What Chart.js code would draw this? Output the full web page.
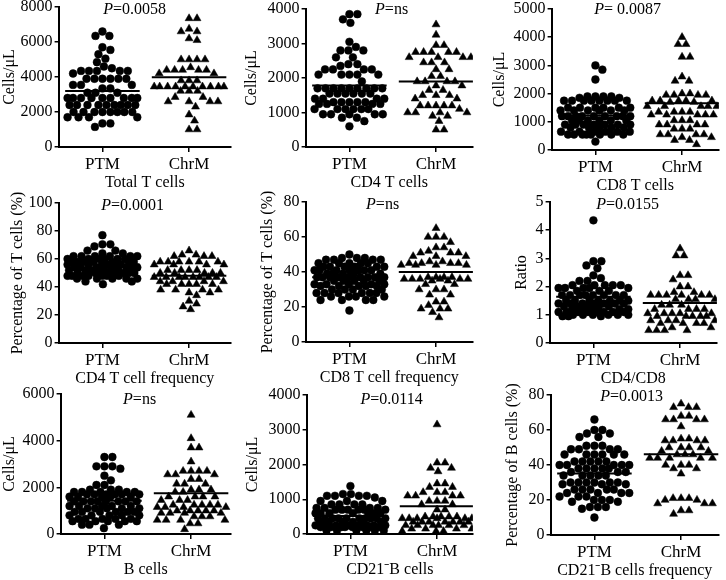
<!DOCTYPE html>
<html>
<head>
<meta charset="utf-8">
<script src="https://cdn.jsdelivr.net/npm/chart.js@4.4.1/dist/chart.umd.min.js"></script>
<style>
html, body { margin: 0; padding: 0; background: #fff; width: 726px; height: 580px; overflow: hidden; position: relative; }
canvas { position: absolute; }
</style>
</head>
<body>
<script>
// values, one row of dots per line
var groupLabels = ["PTM", "ChrM"];
var panelTitles = ["Total T cells", "CD4 T cells", "CD8 T cells",
    "CD4 T cell frequency", "CD8 T cell frequency", "CD4/CD8",
    "B cells", "CD21\u207BB cells", "CD21\u207BB cells frequency"];
var yTitles = ["Cells/\u03BCL", "Cells/\u03BCL", "Cells/\u03BCL",
    "Percentage of T cells (%)", "Percentage of T cells (%)", "Ratio",
    "Cells/\u03BCL", "Cells/\u03BCL", "Percentage of B cells (%)"];
var pValues = ["=0.0058", "=ns", "= 0.0087", "=0.0001", "=ns", "=0.0155", "=ns", "=0.0114", "=0.0013"];
var yMax = [8000, 4000, 5000, 100, 80, 5, 6000, 4000, 80];
var yStep = [2000, 1000, 1000, 20, 20, 1, 2000, 1000, 20];
var meanPTM = [3200, 1780, 1220, 56, 37, 1.64, 1430, 520, 35.2];
var meanChrM = [3980, 1900, 1660, 48, 40, 1.42, 1750, 800, 46.1];

var totalT_ptm = [6600, 6350, 6350, 5700, 5550, 5300, 5050, 4850, 4600, 4500,
    4350, 4350, 4350, 4350, 4350, 4200,
    3900, 3900, 3900, 3900, 3900, 3900,
    3550, 3550, 3550, 3350, 3350, 3100, 3100, 3100,
    2800, 2800, 2800, 2800, 2800, 2800, 2800, 2800, 2800,
    2400, 2400, 2400, 2400, 2400, 2400, 2400, 2400, 2400,
    2000, 2000, 2000, 2000, 2000, 2000, 2000, 2000,
    1700, 1700, 1700, 1700, 1350, 1350, 1150];
var totalT_chrm = [7350, 7350, 6750, 6600, 6600, 6200, 6100,
    5000, 5000, 5000, 5000, 4550,
    4400, 4400, 4400, 4400, 4400, 4200, 4200,
    3800, 3800, 3800,
    3450, 3450, 3450, 3450, 3450, 3450, 3450, 3450, 3450, 3450,
    3200, 3200, 3200, 2850, 2850, 2600, 2600, 2600, 2600,
    2300, 1850, 1500, 1000, 1000];

var cd4T_ptm = [3850, 3850, 3700, 3600, 3050, 2900, 2800, 2800, 2800,
    2600, 2600, 2400, 2400, 2350, 2250, 2250, 2250, 2250,
    2100, 2100, 2100, 2100, 2100, 1900,
    1700, 1700, 1700, 1700, 1700, 1700, 1700, 1700, 1700,
    1550, 1550, 1550, 1550, 1550, 1550,
    1400, 1400, 1400, 1400, 1300, 1300, 1300, 1300, 1300,
    1250, 1250, 1250, 1250,
    1100, 1100, 1100, 1100, 1100, 1100,
    950, 950, 950, 950, 950, 850, 850, 750, 600];
var cd4T_chrm = [3550, 3250, 2950, 2950,
    2750, 2750, 2750, 2750, 2750, 2600, 2600, 2600, 2600,
    2450, 2450, 2450, 2250, 2250, 2050, 2050,
    1900, 1900, 1900, 1900, 1780, 1780, 1650, 1650,
    1500, 1500, 1500, 1400, 1400,
    1200, 1200, 1200, 1200, 1200, 1100,
    1000, 1000, 1000, 1000, 900, 900, 750, 500, 500];

var cd8T_ptm = [3000, 2850, 2500, 1900, 1900, 1900, 1900, 1850, 1850,
    1750, 1750, 1750, 1750, 1750, 1750, 1750, 1750,
    1500, 1500, 1500, 1500, 1500, 1500,
    1400, 1400, 1400, 1400, 1400, 1400,
    1200, 1200, 1200, 1200, 1200, 1200, 1200, 1200, 1200,
    1050, 1050, 1050, 1050, 1050, 1050,
    900, 900, 900, 900, 900, 900, 900,
    800, 800, 800, 800, 800,
    650, 650, 650, 650, 650, 650,
    550, 550, 550, 550, 550, 550, 550, 550, 300];
var cd8T_chrm = [4000, 3750, 3750, 3300, 3300, 2600, 2450, 2450,
    2000, 2000, 1950, 1950, 1950, 1950,
    1750, 1750, 1750, 1750, 1750, 1700, 1700,
    1550, 1550, 1550, 1550, 1550, 1350, 1350, 1350, 1350,
    1250, 1250, 1250, 1250, 1250, 1050, 1050, 1050,
    900, 900, 900, 900, 750, 750, 750,
    550, 550, 550, 550, 450, 450, 350, 350, 200];

var cd4Freq_ptm = [77, 70.5, 70.5, 69, 66, 66, 64, 64,
    62, 62, 62, 62, 62, 62, 60, 60, 60, 60, 60, 60,
    58, 58, 58, 58, 58, 58, 58, 56, 56, 56, 56, 56, 56,
    54, 54, 54, 54, 54, 54, 54, 52, 52, 52, 52, 52, 52,
    50, 50, 50, 50, 50, 50, 50, 48, 48, 48, 48, 48, 48, 48,
    46, 46, 46, 46, 46, 44, 44, 42];
var cd4Freq_chrm = [66, 63, 63, 62, 62, 62,
    58, 58, 58, 58, 58, 58, 56, 56, 56, 56,
    52, 52, 52, 52, 50, 50, 50, 50, 50,
    47, 47, 47, 47, 47, 47, 47, 47,
    44, 44, 44, 44, 42, 42, 42, 42, 42,
    38, 38, 38, 38, 36, 36, 34, 30, 28, 26, 24];

var cd8Freq_ptm = [50, 48, 48, 48, 47, 47, 47, 47,
    45, 45, 45, 45, 45, 43, 43, 43, 43, 43, 43,
    41, 41, 41, 41, 41, 41, 41, 39, 39, 39, 39, 39,
    37, 37, 37, 37, 37, 37, 37, 37, 37,
    35, 35, 35, 35, 35, 33, 33, 33, 33, 33, 32, 32, 32, 32, 32,
    30, 30, 30, 30, 28, 28, 28, 28, 28, 28,
    26, 26, 26, 26, 24, 24, 24, 24, 18];
var cd8Freq_chrm = [65, 60, 60, 60, 57, 54, 54, 52, 51, 51, 51,
    49, 49, 49, 46, 46, 45, 45, 45, 45, 44, 44, 44, 44,
    37, 37, 37, 37, 36, 36, 36, 36, 36, 36, 35, 35,
    33, 33, 30, 30, 30, 27, 27, 23, 23, 21, 19, 19, 19, 17, 14];

var ratio_ptm = [4.35, 2.9, 2.9, 2.75, 2.65, 2.4, 2.3, 2.2, 2.2,
    2.05, 2.05, 2.05, 2.05, 2.05, 1.95, 1.95, 1.95, 1.95, 1.95, 1.85, 1.85, 1.85,
    1.7, 1.7, 1.7, 1.7, 1.7, 1.7, 1.7, 1.7,
    1.5, 1.5, 1.5, 1.5, 1.5, 1.5, 1.5, 1.4, 1.4, 1.4, 1.4, 1.4, 1.4, 1.4,
    1.3, 1.3, 1.3, 1.3, 1.3, 1.2, 1.2, 1.2, 1.2, 1.2,
    1.1, 1.1, 1.1, 1.1, 1.1, 1.1, 1.1, 1.1,
    1.0, 1.0, 1.0, 1.0, 1.0, 1.0, 0.95, 0.95, 0.95];
var ratio_chrm = [3.35, 3.1, 3.1, 2.4, 2.4, 2.25, 2.0, 2.0, 1.8, 1.8,
    1.7, 1.7, 1.7, 1.7, 1.7, 1.7, 1.55, 1.55, 1.55, 1.55,
    1.35, 1.35, 1.35, 1.2, 1.2, 1.2, 1.2,
    1.05, 1.05, 1.05, 1.05, 1.05, 0.95, 0.95, 0.95, 0.95, 0.95,
    0.8, 0.8, 0.8, 0.8, 0.7, 0.7, 0.7, 0.7, 0.55, 0.55, 0.45, 0.45, 0.45, 0.45];

var bCells_ptm = [3300, 3300, 2900, 2900, 2900, 2800, 2500, 2300, 2100, 2100,
    1900, 1900, 1900, 1800, 1800, 1800, 1800, 1800,
    1700, 1700, 1700, 1700, 1700, 1700, 1600, 1600, 1600, 1600, 1600,
    1400, 1400, 1400, 1400, 1400, 1400, 1400, 1400,
    1200, 1200, 1200, 1200, 1200, 1100, 1100, 1100, 1100, 1100,
    950, 950, 950, 950, 950, 950, 800, 800, 800, 800, 800,
    650, 650, 650, 650, 650, 550, 550, 550, 550, 550, 400, 400, 400, 250];
var bCells_chrm = [5100, 4100, 3700, 3700, 3100, 2700, 2700, 2700, 2700,
    2550, 2550, 2550, 2350, 2350, 2150, 2150, 2150, 1900, 1900, 1900, 1800, 1800,
    1600, 1600, 1600, 1600, 1450, 1450, 1450,
    1250, 1250, 1250, 1250, 1250, 1150, 1150, 1150, 1150,
    1000, 1000, 1000, 1000, 1000, 900, 900, 900, 900,
    750, 750, 750, 600, 600, 600, 600, 450, 450, 200];

var cd21B_ptm = [1380, 1150, 1150, 1100, 1100, 1100, 1100, 1050,
    950, 950, 950, 850, 850, 850, 850, 750, 750, 750, 750,
    700, 700, 700, 700, 700, 700, 600, 600, 600, 600, 600, 600, 600,
    450, 450, 450, 450, 450, 450, 450, 450, 450, 450,
    350, 350, 350, 350, 350, 350, 250, 250, 250, 250, 250, 250, 250, 250,
    200, 200, 200, 200, 200, 200, 200, 200, 100, 100, 100, 100, 100, 100];
var cd21B_chrm = [3150, 2050, 2050, 1900, 1900, 1800, 1450, 1450, 1350, 1350,
    1200, 1200, 1200, 1100, 1100, 1100, 1100, 950, 950, 950, 850, 850, 700, 700,
    500, 500, 500, 500, 500, 450, 450, 450, 450, 450, 450,
    350, 350, 350, 350, 350, 350, 350, 250, 250, 250, 250, 250, 250,
    150, 150, 150, 150, 80, 80, 80];

var cd21BFreq_ptm = [66, 60, 60, 58, 58, 56, 56, 51, 51, 51, 49, 49, 49, 49,
    46, 46, 46, 46, 46, 46, 42, 42, 42, 42, 42, 40, 40, 40, 40, 40,
    38, 38, 38, 38, 38, 36, 36, 36, 34, 34, 34, 34, 34,
    30, 30, 30, 30, 30, 30, 29, 29, 29, 26, 26, 26, 26, 26,
    24, 24, 24, 24, 22, 22, 22, 20, 20, 20, 19, 19, 16, 16, 16, 15, 10];
var cd21BFreq_chrm = [75, 73, 73, 73, 68, 68, 66, 66, 66, 66, 62,
    55, 55, 54, 54, 54, 54, 50, 50, 50, 50, 48, 48, 46, 46, 46,
    44, 44, 44, 44, 44, 40, 40, 40, 38, 38, 35,
    21, 21, 21, 20, 20, 18, 18, 18, 14, 14, 12];

var ptmSeries = [totalT_ptm, cd4T_ptm, cd8T_ptm, cd4Freq_ptm, cd8Freq_ptm, ratio_ptm, bCells_ptm, cd21B_ptm, cd21BFreq_ptm];
var chrmSeries = [totalT_chrm, cd4T_chrm, cd8T_chrm, cd4Freq_chrm, cd8Freq_chrm, ratio_chrm, bCells_chrm, cd21B_chrm, cd21BFreq_chrm];

// page layout of each plot frame (pixels)
var boxes = [
    { x0: 59, x1: 232, top: 7, bottom: 147, gap: 49, pX: 135, pY: 10 },
    { x0: 306, x1: 474, top: 9, bottom: 147, gap: 54, pX: 392, pY: 10 },
    { x0: 552, x1: 720, top: 9, bottom: 150, gap: 52, pX: 628, pY: 10 },
    { x0: 59, x1: 232, top: 203, bottom: 343, gap: 41, pX: 133, pY: 206 },
    { x0: 306, x1: 474, top: 202, bottom: 342, gap: 38, pX: 383, pY: 205 },
    { x0: 550, x1: 718, top: 202, bottom: 343, gap: 28, pX: 628, pY: 205 },
    { x0: 61, x1: 232, top: 394, bottom: 534, gap: 51, pX: 140, pY: 400 },
    { x0: 307, x1: 474, top: 395, bottom: 534, gap: 54, pX: 392, pY: 400 },
    { x0: 551, x1: 720, top: 395, bottom: 535, gap: 38, pX: 632, pY: 397 }
];

var FONT = "'Liberation Serif', 'Times New Roman', serif";
var PX_PER_X = 87;   // pixels between PTM and ChrM columns
var DOT = 8;         // wanted distance between dot centres
var HALF = 35;       // dots stay within this many pixels of the column

// spread close values sideways; when the column is full, dots overlap
function swarm(values, center, pxPerY) {
    var placed = [];
    values.forEach(function (v) {
        var y = v * pxPerY;
        var best = 0, bestScore = -1;
        for (var k = 0; k <= 2 * HALF * 2; k++) {
            var step = Math.ceil(k / 2) * 0.5;
            var c = (k % 2 === 1) ? step : -step;
            var md = DOT;
            for (var j = 0; j < placed.length; j++) {
                var dx = placed[j].px - c, dy = placed[j].py - y;
                var d = Math.sqrt(dx * dx + dy * dy);
                if (d < md) md = d;
            }
            if (md > bestScore + 1e-6) { bestScore = md; best = c; }
            if (md >= DOT) break;
        }
        placed.push({ px: best, py: y, v: v });
    });
    return placed.map(function (p) { return { x: center + p.px / PX_PER_X, y: p.v }; });
}

function meanLine(center, m) {
    return [{ x: center - 0.43, y: m }, { x: center + 0.43, y: m }];
}

var pTextPlugin = {
    id: "pText",
    afterDraw: function (chart, args, opts) {
        var ctx = chart.ctx;
        ctx.save();
        ctx.fillStyle = "#000";
        ctx.textBaseline = "middle";
        ctx.font = "italic 16px " + FONT;
        var w1 = ctx.measureText("P").width;
        ctx.font = "16px " + FONT;
        var w2 = ctx.measureText(opts.text).width;
        var x = opts.x - (w1 + w2) / 2;
        ctx.font = "italic 16px " + FONT;
        ctx.textAlign = "left";
        ctx.fillText("P", x, opts.y);
        ctx.font = "16px " + FONT;
        ctx.fillText(opts.text, x + w1, opts.y);
        ctx.restore();
    }
};

function makePanel(i) {
    var b = boxes[i];
    var padTop = 14, padRight = 4, xAxisH = 46;
    var yAxisW = b.gap + 11.6;
    var w = Math.round(yAxisW + (b.x1 - b.x0) + padRight);
    var h = padTop + (b.bottom - b.top) + xAxisH;
    var left = b.x0 - yAxisW;
    var top = b.top - padTop;

    var canvas = document.createElement("canvas");
    canvas.width = w;
    canvas.height = h;
    canvas.style.left = left + "px";
    canvas.style.top = top + "px";
    canvas.style.width = w + "px";
    canvas.style.height = h + "px";
    document.body.appendChild(canvas);

    var pxPerY = (b.bottom - b.top) / yMax[i];
    var xMin = 1 - 44 / PX_PER_X;
    var xMaxV = 2 + (b.x1 - b.x0 - 131) / PX_PER_X;

    new Chart(canvas, {
        type: "scatter",
        data: {
            datasets: [
                {
                    data: swarm(ptmSeries[i], 1, pxPerY),
                    pointStyle: "circle",
                    pointRadius: 3.9,
                    backgroundColor: "#000",
                    borderColor: "#000",
                    borderWidth: 0.5
                },
                {
                    data: swarm(chrmSeries[i], 2, pxPerY),
                    pointStyle: "triangle",
                    pointRadius: 4.6,
                    backgroundColor: "#000",
                    borderColor: "#000",
                    borderWidth: 0.5
                },
                {
                    data: meanLine(1, meanPTM[i]),
                    showLine: true,
                    pointRadius: 0,
                    borderColor: "#000",
                    borderWidth: 2
                },
                {
                    data: meanLine(2, meanChrM[i]),
                    showLine: true,
                    pointRadius: 0,
                    borderColor: "#000",
                    borderWidth: 2
                }
            ]
        },
        options: {
            responsive: false,
            animation: false,
            events: [],
            layout: { padding: { top: padTop, right: padRight, left: 0, bottom: 0 } },
            plugins: {
                legend: { display: false },
                tooltip: { enabled: false },
                pText: { text: pValues[i], x: b.pX - left, y: b.pY - top }
            },
            scales: {
                x: {
                    type: "linear",
                    min: xMin,
                    max: xMaxV,
                    afterBuildTicks: function (scale) {
                        scale.ticks = [{ value: 1 }, { value: 2 }];
                    },
                    afterFit: function (scale) { scale.height = xAxisH; },
                    ticks: {
                        autoSkip: false,
                        maxRotation: 0,
                        padding: 2,
                        color: "#000",
                        font: { family: FONT, size: 17 },
                        callback: function (v) { return groupLabels[v - 1]; }
                    },
                    grid: { drawOnChartArea: false, drawTicks: true, tickLength: 5, color: "#000", lineWidth: 1.5 },
                    border: { display: true, color: "#000", width: 2 },
                    title: {
                        display: true,
                        text: panelTitles[i],
                        color: "#000",
                        font: { family: FONT, size: 16 },
                        padding: { top: 0, bottom: 1 }
                    }
                },
                y: {
                    min: 0,
                    max: yMax[i],
                    afterFit: function (scale) { scale.width = yAxisW; },
                    ticks: {
                        stepSize: yStep[i],
                        padding: 2,
                        color: "#000",
                        font: { family: FONT, size: 16 },
                        callback: function (v) { return String(v); }
                    },
                    grid: { drawOnChartArea: false, drawTicks: true, tickLength: 4, color: "#000", lineWidth: 1.5 },
                    border: { display: true, color: "#000", width: 2 },
                    title: {
                        display: true,
                        text: yTitles[i],
                        color: "#000",
                        font: { family: FONT, size: 16 },
                        padding: { top: 2, bottom: 0 }
                    }
                }
            }
        },
        plugins: [pTextPlugin]
    });
}

for (var i = 0; i < 9; i++) makePanel(i);
</script>
</body>
</html>
